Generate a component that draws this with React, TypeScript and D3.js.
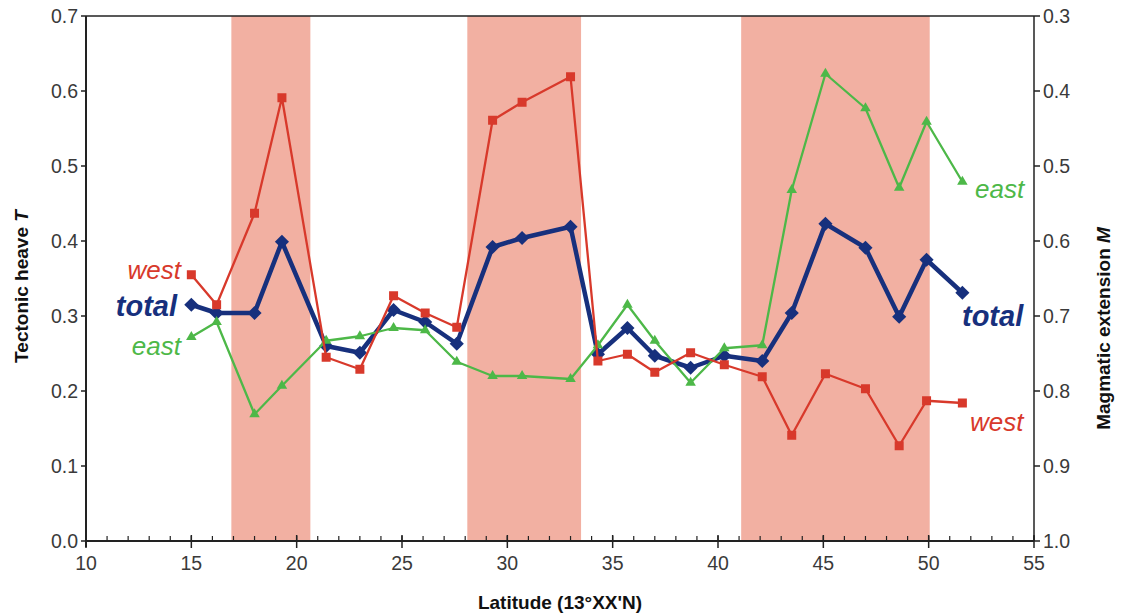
import React from "react";
import * as d3 from "d3";

const latitudes = [15.0, 16.2, 18.0, 19.3, 21.4, 23.0, 24.6, 26.1, 27.6, 29.3, 30.7, 33.0, 34.3, 35.7, 37.0, 38.7, 40.3, 42.1, 43.5, 45.1, 47.0, 48.6, 49.9, 51.6];
const westValues = [0.355, 0.315, 0.437, 0.591, 0.245, 0.229, 0.327, 0.304, 0.285, 0.561, 0.585, 0.619, 0.240, 0.249, 0.225, 0.251, 0.235, 0.219, 0.141, 0.223, 0.203, 0.127, 0.187, 0.184];
const totalValues = [0.315, 0.304, 0.304, 0.399, 0.260, 0.251, 0.308, 0.292, 0.263, 0.392, 0.404, 0.419, 0.249, 0.284, 0.247, 0.231, 0.247, 0.240, 0.304, 0.423, 0.391, 0.299, 0.375, 0.331];
const eastValues = [0.272, 0.292, 0.169, 0.207, 0.267, 0.273, 0.284, 0.281, 0.239, 0.220, 0.220, 0.216, 0.261, 0.315, 0.267, 0.211, 0.257, 0.261, 0.468, 0.623, 0.577, 0.471, 0.559, 0.479];
const bandStarts = [16.9, 28.1, 41.1];
const bandEnds = [20.65, 33.5, 50.05];
const xTicks = [10, 15, 20, 25, 30, 35, 40, 45, 50, 55];
const leftTicks = [0, 0.1, 0.2, 0.3, 0.4, 0.5, 0.6, 0.7];
const rightTicks = [0.3, 0.4, 0.5, 0.6, 0.7, 0.8, 0.9, 1.0];

const W = 1127, H = 615;
const L = 86, R = 1034, T = 16, B = 541;
const FONT = "'Liberation Sans', Arial, Helvetica, sans-serif";

export default function App() {
  const x = d3.scaleLinear().domain([10, 55]).range([L, R]);
  const y = d3.scaleLinear().domain([0, 0.7]).range([B, T]);
  const yM = d3.scaleLinear().domain([1.0, 0.3]).range([B, T]);
  const minor = d3.range(10, 56, 1);

  const line = (vals: number[]) =>
    d3.line<number>().x((_, i) => x(latitudes[i])).y((v) => y(v))(vals) || "";

  const WEST = "#d8392b", TOTAL = "#17307d", EAST = "#4db848";
  const tri = d3.symbol().type(d3.symbolTriangle).size(48)() || "";

  return (
    <svg width={W} height={H} style={{ position: "absolute", left: 0, top: 0, background: "#fff" }} fontFamily={FONT}>
      <rect x={0} y={0} width={W} height={H} fill="#fff" />
      {bandStarts.map((s, i) => (
        <rect key={i} x={x(s)} y={T} width={x(bandEnds[i]) - x(s)} height={B - T} fill="#f2b0a2" />
      ))}

      {/* series */}
      <path d={line(totalValues)} fill="none" stroke={TOTAL} strokeWidth={4.5} strokeLinejoin="round" />
      {totalValues.map((v, i) => (
        <rect key={"t" + i} x={-5} y={-5} width={10} height={10} fill={TOTAL}
          transform={`translate(${x(latitudes[i])},${y(v)}) rotate(45)`} />
      ))}
      <path d={line(eastValues)} fill="none" stroke={EAST} strokeWidth={2.3} strokeLinejoin="round" />
      {eastValues.map((v, i) => (
        <path key={"e" + i} d={tri} fill={EAST} transform={`translate(${x(latitudes[i])},${y(v)})`} />
      ))}
      <path d={line(westValues)} fill="none" stroke={WEST} strokeWidth={2.3} strokeLinejoin="round" />
      {westValues.map((v, i) => (
        <rect key={"w" + i} x={x(latitudes[i]) - 4.5} y={y(v) - 4.5} width={9} height={9} fill={WEST} />
      ))}

      {/* frame */}
      <line x1={L} x2={R} y1={T} y2={T} stroke="#222" strokeWidth={1.5} />
      <line x1={R} x2={R} y1={T} y2={B} stroke="#222" strokeWidth={1.5} />
      <line x1={L} x2={L} y1={T} y2={B + 6} stroke="#222" strokeWidth={2} />
      <line x1={L} x2={R} y1={B} y2={B} stroke="#222" strokeWidth={2} />

      {/* x ticks */}
      {minor.map((m) => (
        <line key={"m" + m} x1={x(m)} x2={x(m)} y1={B} y2={B - 5} stroke="#222" strokeWidth={1.2} />
      ))}
      {xTicks.map((t) => (
        <g key={"x" + t}>
          <line x1={x(t)} x2={x(t)} y1={B - 6} y2={B + 7} stroke="#222" strokeWidth={1.5} />
          <text x={x(t)} y={B + 29} textAnchor="middle" fontSize={19.5} fill="#3a3a3a">{t}</text>
        </g>
      ))}
      {/* left ticks */}
      {leftTicks.map((t) => (
        <g key={"l" + t}>
          <line x1={L - 5} x2={L} y1={y(t)} y2={y(t)} stroke="#222" strokeWidth={1.5} />
          <text x={L - 8} y={y(t) + 7} textAnchor="end" fontSize={19.5} fill="#3a3a3a">{t.toFixed(1)}</text>
        </g>
      ))}
      {/* right ticks */}
      {rightTicks.map((t) => (
        <g key={"r" + t}>
          <line x1={R} x2={R + 6} y1={yM(t)} y2={yM(t)} stroke="#222" strokeWidth={1.5} />
          <text x={R + 9} y={yM(t) + 7} textAnchor="start" fontSize={19.5} fill="#3a3a3a">{t.toFixed(1)}</text>
        </g>
      ))}

      {/* axis titles */}
      <text transform={`translate(28,${(T + B) / 2 + 8}) rotate(-90)`} textAnchor="middle" fontSize={19} fontWeight="bold" fill="#111">
        Tectonic heave <tspan fontStyle="italic">T</tspan>
      </text>
      <text transform={`translate(1110,${(T + B) / 2 + 50}) rotate(-90)`} textAnchor="middle" fontSize={19} fontWeight="bold" fill="#111">
        Magmatic extension <tspan fontStyle="italic">M</tspan>
      </text>
      <text x={(L + R) / 2} y={609} textAnchor="middle" fontSize={19} fontWeight="bold" fill="#111">
        Latitude (13°XX'N)
      </text>

      {/* series labels */}
      <text x={181} y={279} textAnchor="end" fontSize={26} fontStyle="italic" fill={WEST}>west</text>
      <text x={177} y={316} textAnchor="end" fontSize={29} fontStyle="italic" fontWeight="bold" fill={TOTAL}>total</text>
      <text x={181} y={355} textAnchor="end" fontSize={26} fontStyle="italic" fill={EAST}>east</text>
      <text x={975} y={198} textAnchor="start" fontSize={26} fontStyle="italic" fill={EAST}>east</text>
      <text x={962} y={326} textAnchor="start" fontSize={29} fontStyle="italic" fontWeight="bold" fill={TOTAL}>total</text>
      <text x={970} y={431} textAnchor="start" fontSize={26} fontStyle="italic" fill={WEST}>west</text>
    </svg>
  );
}
